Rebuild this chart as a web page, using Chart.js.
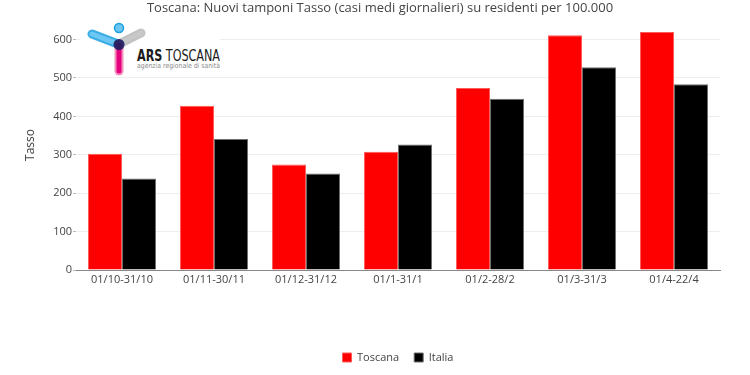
<!DOCTYPE html>
<html>
<head>
<meta charset="utf-8">
<script src="https://cdn.jsdelivr.net/npm/chart.js@4.4.1/dist/chart.umd.min.js"></script>
<style>
  html, body { margin: 0; padding: 0; background: #fff; }
  #wrap { position: relative; width: 750px; height: 375px; }
  #logo { position: absolute; left: 80px; top: 20px; width: 140px; height: 56px; background: #fff; }
</style>
</head>
<body>
<div id="wrap">
  <canvas id="chart" width="750" height="375"></canvas>
  <!-- logo ARS Toscana -->
  <svg id="logo" width="140" height="56" viewBox="80 20 140 56">
    <line x1="92" y1="34" x2="118" y2="44" stroke="#1a9fe0" stroke-width="9" stroke-linecap="round" opacity="0.85"/>
    <line x1="92" y1="34" x2="118" y2="44" stroke="#6cc8f2" stroke-width="5" stroke-linecap="round"/>
    <line x1="119" y1="44" x2="141" y2="33" stroke="#9a9a9a" stroke-width="9" stroke-linecap="round" opacity="0.6"/>
    <line x1="119" y1="44" x2="141" y2="33" stroke="#c8c8c8" stroke-width="5" stroke-linecap="round"/>
    <line x1="119" y1="45" x2="119" y2="71" stroke="#f06aa8" stroke-width="9" stroke-linecap="round" opacity="0.75"/>
    <line x1="119" y1="45" x2="119" y2="71" stroke="#e5007e" stroke-width="5" stroke-linecap="round"/>
    <circle cx="119" cy="28" r="4.5" fill="#6cc8f2" stroke="#1a9fe0" stroke-width="1.5"/>
    <circle cx="119" cy="44.5" r="5.5" fill="#1b1f5e" opacity="0.9"/>
    <text x="137" y="61" font-family="DejaVu Sans Condensed, sans-serif" font-size="15" fill="#1a1a1a" textLength="83" lengthAdjust="spacingAndGlyphs"><tspan font-weight="bold">ARS</tspan> TOSCANA</text>
    <text x="137" y="68" font-family="DejaVu Sans Condensed, sans-serif" font-size="7" fill="#8a8a8a" textLength="83" lengthAdjust="spacingAndGlyphs">agenzia regionale di sanità</text>
  </svg>
</div>
<script>
// dati
const periodi = ['01/10-31/10', '01/11-30/11', '01/12-31/12', '01/1-31/1', '01/2-28/2', '01/3-31/3', '01/4-22/4'];
const toscana = [303, 428, 275, 308, 474, 611, 620];
const italia = [238, 341, 251, 327, 446, 528, 484];
const yTicks = [0, 100, 200, 300, 400, 500, 600];

const titolo = 'Toscana: Nuovi tamponi Tasso (casi medi giornalieri) su residenti per 100.000';
const font = 'Open Sans';

// titolo disegnato a mano per centrarlo come nell'originale
const titlePlugin = {
    id: 'titoloFisso',
    afterDraw(chart) {
        const ctx = chart.ctx;
        ctx.save();
        ctx.font = '13px "' + font + '"';
        ctx.fillStyle = '#444';
        ctx.textAlign = 'center';
        ctx.textBaseline = 'middle';
        ctx.fillText(titolo, 380, 8);
        ctx.restore();
    }
};

const ctx = document.getElementById('chart').getContext('2d');
new Chart(ctx, {
    type: 'bar',
    data: {
        labels: periodi,
        datasets: [{
            label: 'Toscana',
            data: toscana,
            backgroundColor: '#ff0000',
            borderColor: '#ff5a5a',
            borderWidth: 1
        }, {
            label: 'Italia',
            data: italia,
            backgroundColor: '#000000',
            borderColor: '#6e6e6e',
            borderWidth: 1
        }]
    },
    options: {
        responsive: false,
        animation: false,
        layout: {
            padding: { top: 20, right: 30, left: 0, bottom: 2 }
        },
        datasets: {
            bar: {
                categoryPercentage: 0.74,
                barPercentage: 1.0
            }
        },
        plugins: {
            title: { display: false },
            tooltip: { enabled: false },
            legend: {
                position: 'bottom',
                fullSize: false,
                labels: {
                    boxWidth: 9,
                    boxHeight: 9,
                    padding: 15,
                    color: '#444',
                    font: { family: font, size: 11 }
                }
            }
        },
        scales: {
            x: {
                grid: { display: false, drawTicks: false },
                border: { display: true, color: '#888', width: 1 },
                ticks: {
                    color: '#444',
                    padding: 3,
                    maxRotation: 0,
                    font: { family: font, size: 11 }
                },
                afterFit(scale) { scale.height = 67; }
            },
            y: {
                min: 0,
                max: 651,
                afterBuildTicks(scale) {
                    scale.ticks = yTicks.map(v => ({ value: v }));
                },
                grid: {
                    color: '#eeeeee',
                    tickColor: '#bbbbbb',
                    tickLength: 3
                },
                border: { display: false },
                ticks: {
                    color: '#444',
                    padding: 1,
                    font: { family: font, size: 11 }
                },
                title: {
                    display: true,
                    text: 'Tasso',
                    color: '#444',
                    padding: { top: 23, bottom: 0 },
                    font: { family: font, size: 12 }
                },
                afterFit(scale) { scale.width = 76; }
            }
        }
    },
    plugins: [titlePlugin]
});
</script>
</body>
</html>
